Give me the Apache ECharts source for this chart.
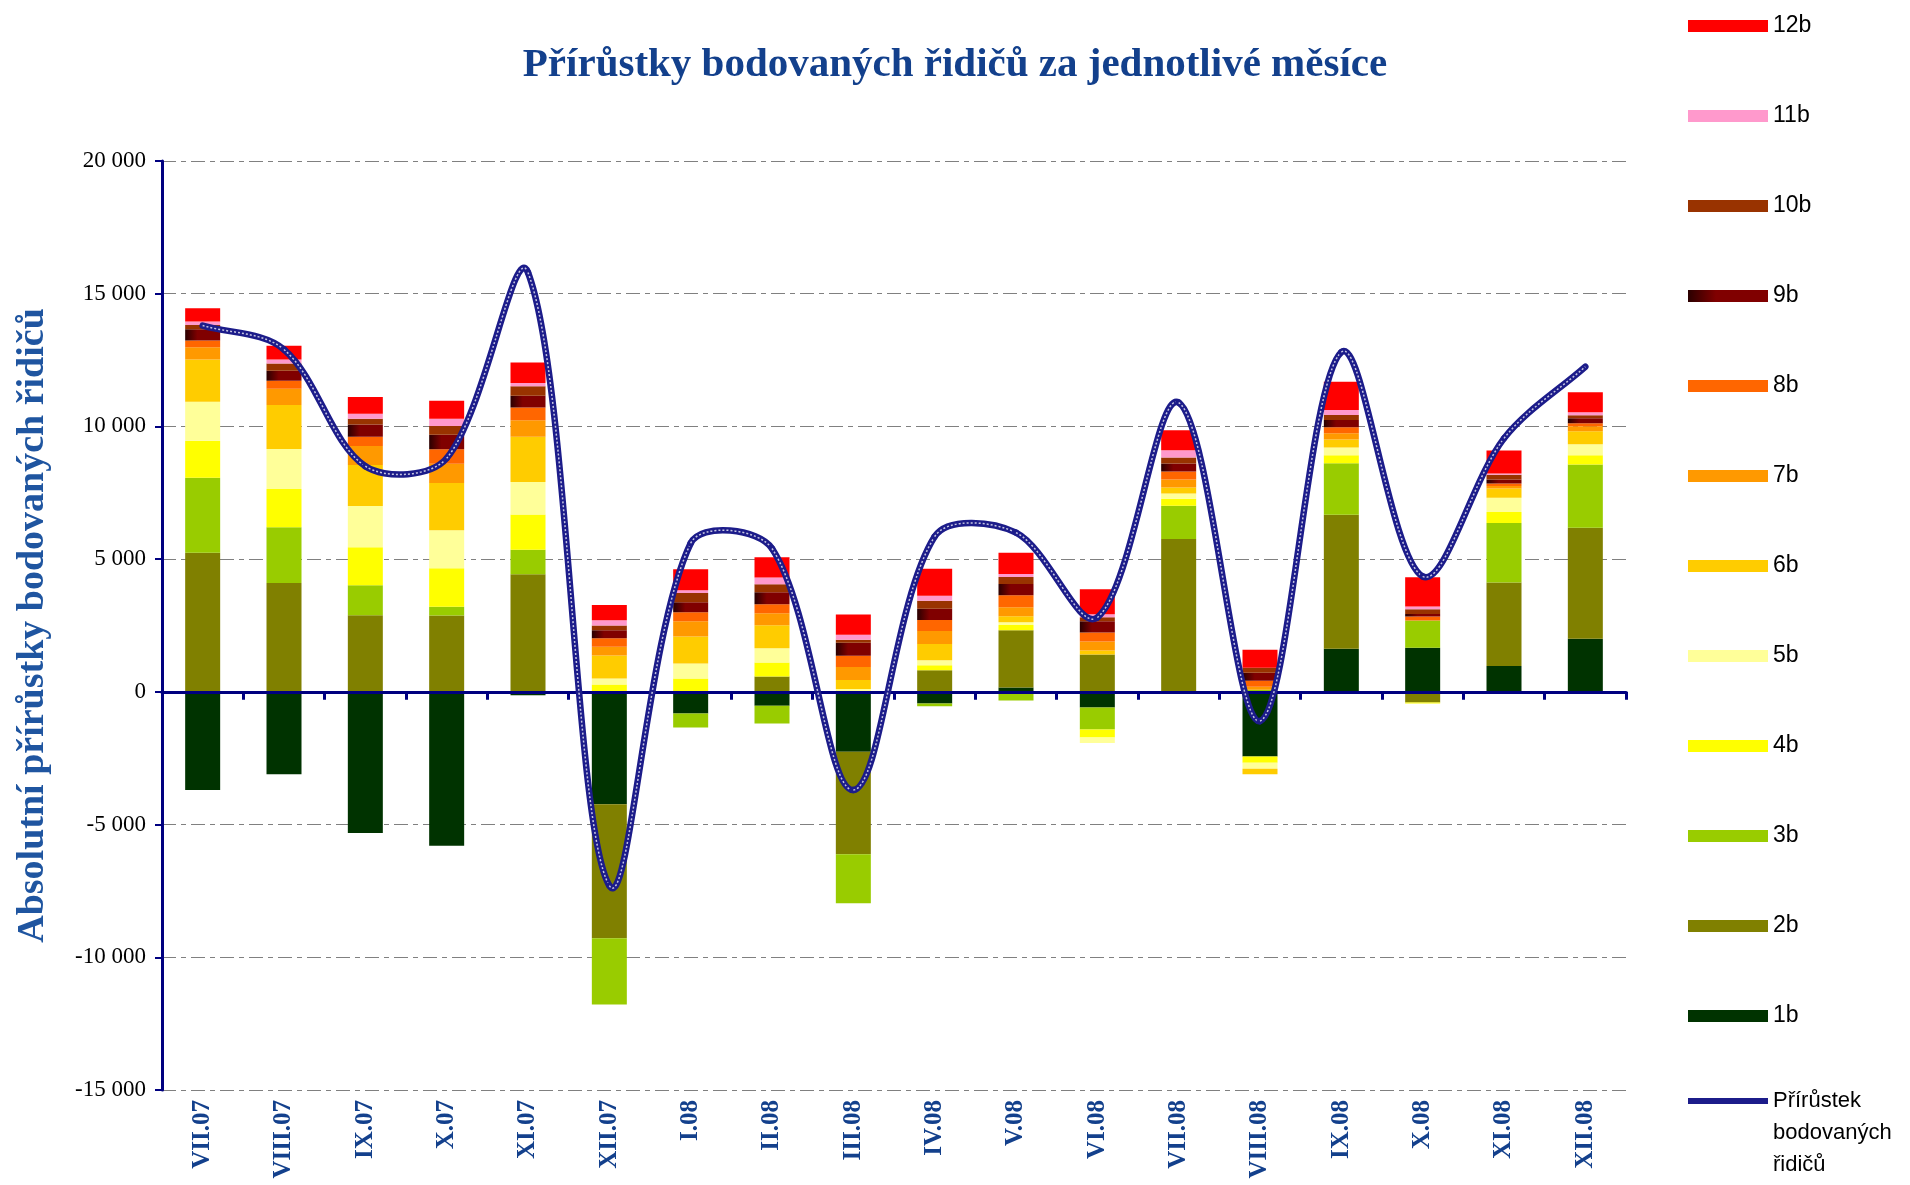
<!DOCTYPE html>
<html>
<head>
<meta charset="utf-8">
<title>Přírůstky bodovaných řidičů</title>
<script src="https://cdn.jsdelivr.net/npm/echarts@6/dist/echarts.min.js"></script>
<style>
  html, body { margin: 0; padding: 0; background: #fff; }
  #chart { width: 1910px; height: 1185px; }
</style>
</head>
<body>
<div id="chart"></div>
<script>
// months on the category axis
var months = ['VII.07', 'VIII.07', 'IX.07', 'X.07', 'XI.07', 'XII.07', 'I.08', 'II.08', 'III.08',
              'IV.08', 'V.08', 'VI.08', 'VII.08', 'VIII.08', 'IX.08', 'X.08', 'XI.08', 'XII.08'];

// monthly increments by number of points
var b1  = [-3700, -3100, -5320, -5800, -130, -4230, -820, -520, -2260, -440, 160, -590, 0, -2440, 1620, 1660, 970, 2000];
var b2  = [5240, 4100, 2890, 2880, 4430, -5050, 0, 580, -3860, 810, 2160, 1410, 5760, 0, 5050, -400, 3150, 4180];
var b3  = [2830, 2100, 1130, 330, 920, -2500, -520, -670, -1840, -100, -330, -830, 1250, 80, 1940, 1030, 2240, 2390];
var b4  = [1390, 1440, 1430, 1450, 1330, 280, 500, 530, 30, 190, 200, -300, 270, -230, 300, -40, 420, 340];
var b5  = [1470, 1510, 1550, 1430, 1230, 220, 570, 530, 80, 190, 100, -210, 190, -230, 300, 0, 530, 420];
var b6  = [1590, 1660, 1550, 1780, 1700, 870, 1020, 870, 340, 610, 230, 150, 230, -200, 300, 0, 350, 490];
var b7  = [460, 610, 710, 720, 620, 330, 570, 450, 490, 490, 340, 340, 300, 110, 230, 0, 100, 190];
var b8  = [260, 300, 350, 550, 480, 320, 340, 340, 420, 420, 450, 340, 300, 230, 230, 150, 90, 110];
var b9  = [420, 380, 460, 550, 450, 300, 380, 450, 490, 420, 420, 420, 300, 300, 270, 90, 150, 190];
var b10 = [160, 270, 220, 330, 350, 180, 340, 300, 110, 300, 270, 150, 230, 190, 190, 180, 180, 110];
var b11 = [130, 150, 190, 270, 130, 200, 110, 260, 190, 190, 110, 110, 270, 0, 190, 110, 50, 110];
var b12 = [500, 520, 630, 680, 770, 570, 790, 760, 760, 1020, 800, 950, 760, 680, 1060, 1100, 860, 760];

// total increment line
var total = [13800, 12900, 8500, 8800, 15800, -7300, 5600, 5400, -3700, 5850, 6000, 2800, 10900, -1100, 12800, 4350, 9550, 12250];

var pointNames = ['1b', '2b', '3b', '4b', '5b', '6b', '7b', '8b', '9b', '10b', '11b', '12b'];
var pointData = [b1, b2, b3, b4, b5, b6, b7, b8, b9, b10, b11, b12];
var lineName = 'Přírůstek bodovaných řidičů';

var serif = "'Liberation Serif', 'Times New Roman', serif";
var sans = "'Liberation Sans', Arial, sans-serif";
var navy = '#000080';
var blueText = '#13408c';
var lineColor = '#1c1c8a';

var colors = [
    '#003300', '#808000', '#99cc00', '#ffff00', '#ffff99', '#ffcc00',
    '#ff9900', '#ff6600',
    { type: 'linear', x: 0, y: 0, x2: 1, y2: 0,
      colorStops: [{ offset: 0, color: '#2a0000' }, { offset: 0.35, color: '#800000' }, { offset: 1, color: '#800000' }] },
    '#993300', '#ff99cc', '#ff0000'
];

function spaced(v) {
    return String(v).replace(/\B(?=(\d{3})+(?!\d))/g, ' ');
}

function dist(a, b) {
    return Math.sqrt((a[0] - b[0]) * (a[0] - b[0]) + (a[1] - b[1]) * (a[1] - b[1]));
}

// one segment (i -> i+1) of the smoothed line, spreadsheet style:
// tangent along P(i+1)-P(i-1), weighted by the neighbouring segment lengths
function renderSegment(params, api) {
    var n = total.length;
    var i = params.dataIndex;
    if (i >= n - 1) return null;
    function pt(k) {
        k = Math.max(0, Math.min(n - 1, k));
        return api.coord([k, total[k]]);
    }
    var p0 = pt(i - 1), p1 = pt(i), p2 = pt(i + 1), p3 = pt(i + 2);
    var d01 = dist(p0, p1), d12 = dist(p1, p2), d23 = dist(p2, p3);
    var f1 = d12 / (3 * (d01 + d12));
    var f2 = d12 / (3 * (d12 + d23));
    var shape = {
        x1: p1[0], y1: p1[1],
        cpx1: p1[0] + (p2[0] - p0[0]) * f1, cpy1: p1[1] + (p2[1] - p0[1]) * f1,
        cpx2: p2[0] - (p3[0] - p1[0]) * f2, cpy2: p2[1] - (p3[1] - p1[1]) * f2,
        x2: p2[0], y2: p2[1]
    };
    return {
        type: 'group',
        children: [
            { type: 'bezierCurve', shape: shape,
              style: { stroke: lineColor, lineWidth: 6.5, fill: null, lineCap: 'round' } },
            { type: 'bezierCurve', shape: shape,
              style: { stroke: 'rgba(255,255,255,0.75)', lineWidth: 1.5, fill: null, lineDash: [2, 2] } }
        ]
    };
}

var chart = echarts.init(document.getElementById('chart'));

var series = [];
for (var i = 0; i < pointNames.length; i++) {
    series.push({
        name: pointNames[i],
        type: 'bar',
        stack: 'body',
        xAxisIndex: 0,
        barWidth: 35,
        itemStyle: { color: colors[i] },
        data: pointData[i]
    });
}
series.push({
    name: lineName,
    type: 'custom',
    xAxisIndex: 0,
    z: 10,
    itemStyle: { color: lineColor },
    renderItem: renderSegment,
    data: total
});

var option = {
    animation: false,
    title: {
        text: 'Přírůstky bodovaných řidičů za jednotlivé měsíce',
        left: 'center',
        top: 40,
        textStyle: { fontFamily: serif, fontSize: 41, fontWeight: 'bold', color: blueText }
    },
    legend: [
        {
            orient: 'vertical',
            left: 1683,
            top: 9,
            itemWidth: 80,
            itemHeight: 12,
            itemGap: 66,
            icon: 'rect',
            data: pointNames.slice().reverse(),
            textStyle: { fontFamily: sans, fontSize: 23, lineHeight: 24, color: '#000' }
        },
        {
            orient: 'vertical',
            left: 1683,
            top: 1016,
            itemWidth: 80,
            itemHeight: 6,
            icon: 'rect',
            data: [lineName],
            formatter: function () { return ' \n \nPřírůstek\nbodovaných\nřidičů'; },
            textStyle: { fontFamily: sans, fontSize: 22, lineHeight: 32, color: '#000' }
        }
    ],
    grid: { left: 162, right: 284, top: 161, bottom: 95 },
    xAxis: [
        {
            type: 'category',
            data: months,
            position: 'bottom',
            axisLine: { show: false, onZero: false },
            axisTick: { show: false },
            axisLabel: {
                rotate: 90,
                margin: 10,
                fontFamily: serif,
                fontSize: 25,
                fontWeight: 'bold',
                color: blueText
            }
        },
        {
            type: 'category',
            data: months,
            position: 'bottom',
            z: 5,
            axisLine: { show: true, onZero: true, lineStyle: { color: navy, width: 3 } },
            axisTick: { show: true, length: 8, lineStyle: { color: navy, width: 3 } },
            axisLabel: { show: false }
        }
    ],
    yAxis: {
        type: 'value',
        min: -15000,
        max: 20000,
        interval: 5000,
        name: 'Absolutní přírůstky bodovaných řidičů',
        nameLocation: 'middle',
        nameGap: 110,
        nameTextStyle: { fontFamily: serif, fontSize: 38, fontWeight: 'bold', color: '#1f55a0' },
        axisLine: { show: true, lineStyle: { color: navy, width: 3 } },
        axisTick: { show: true, length: 7, lineStyle: { color: navy, width: 2 } },
        axisLabel: {
            margin: 16,
            fontFamily: serif,
            fontSize: 23,
            color: '#000',
            formatter: spaced
        },
        splitLine: { show: true, lineStyle: { color: '#808080', width: 1, type: [14, 5, 5, 5] } }
    },
    series: series
};

chart.setOption(option);
</script>
</body>
</html>
